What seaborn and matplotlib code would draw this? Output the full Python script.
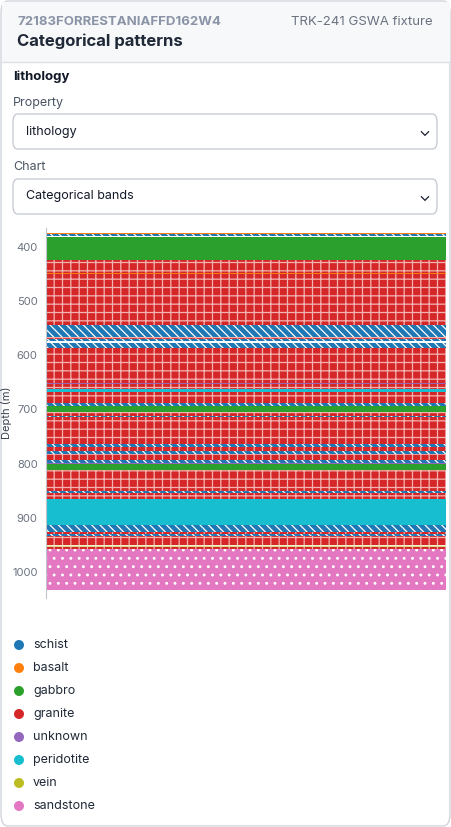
import matplotlib.pyplot as plt
import matplotlib.patches as mpatches
import seaborn as sns

# lithology intervals (depth from, depth to, category)
top_m = [374, 376, 380, 409, 424, 447, 449, 543, 565, 570, 576, 587, 651, 653, 662, 668,
         670, 688, 694, 704, 712, 714, 763, 770, 776, 782, 793, 799, 800, 812, 851, 855,
         866, 913, 926, 930, 935, 950, 954, 958]
base_m = [376, 378, 409, 424, 447, 449, 543, 565, 570, 573, 587, 651, 653, 662, 668, 670,
          688, 694, 704, 712, 714, 763, 770, 776, 782, 793, 799, 800, 812, 851, 855, 866,
          913, 926, 930, 935, 950, 954, 958, 1034]
litho = ['basalt', 'schist', 'gabbro', 'gabbro', 'granite', 'basalt', 'granite', 'schist',
         'granite', 'schist', 'schist', 'granite', 'unknown', 'granite', 'peridotite', 'granite',
         'granite', 'schist', 'gabbro', 'granite', 'schist', 'granite', 'schist', 'granite',
         'schist', 'granite', 'schist', 'unknown', 'gabbro', 'granite', 'schist', 'granite',
         'peridotite', 'schist', 'granite', 'schist', 'granite', 'vein', 'granite', 'sandstone']

categories = ['schist', 'basalt', 'gabbro', 'granite', 'unknown', 'peridotite', 'vein', 'sandstone']
pal = sns.color_palette('tab10', 10)
colors = dict(zip(categories, [pal[0], pal[1], pal[2], pal[3], pal[4], pal[9], pal[8], pal[6]]))
hatches = {'schist': '\\\\\\\\', 'basalt': '--', 'gabbro': '', 'granite': '++',
           'unknown': '', 'peridotite': '', 'vein': '--', 'sandstone': '..'}
hatch_col = {'granite': '#f2b3b3', 'schist': 'white', 'basalt': 'white', 'vein': 'white',
             'sandstone': 'white'}

sns.set_style('white')
plt.rcParams['font.family'] = ['Inter', 'DejaVu Sans']
plt.rcParams['hatch.linewidth'] = 0.9

W, H = 451, 827
fig = plt.figure(figsize=(W / 100, H / 100), dpi=100)

# card + header (kept below the axes)
fig.patches.append(mpatches.FancyBboxPatch((1 / W, 1 / H), 449 / W, 825 / H,
                   boxstyle='round,pad=0,rounding_size=0.015', transform=fig.transFigure,
                   fc='white', ec='#d0d4da', lw=1, zorder=-10))
fig.patches.append(mpatches.Rectangle((1.5 / W, 1 - 62 / H), 448 / W, 60 / H,
                   transform=fig.transFigure, fc='#f7f8fa', ec='none', zorder=-9))
fig.lines.append(plt.Line2D([1 / W, 450 / W], [1 - 62 / H] * 2, transform=fig.transFigure,
                            color='#dde1e6', lw=1, zorder=-8))
fig.text(17 / W, 1 - 22 / H, '72183FORRESTANIAFFD162W4', fontsize=9.5, color='#8a94a6',
         weight='bold', va='center')
fig.text(17 / W, 1 - 41 / H, 'Categorical patterns', fontsize=12, color='#1f2937',
         weight='bold', va='center')
fig.text(433 / W, 1 - 22 / H, 'TRK-241 GSWA fixture', fontsize=9.5, color='#6b7280',
         ha='right', va='center')
fig.text(13 / W, 1 - 77 / H, 'lithology', fontsize=9.5, color='#111827', weight='bold', va='center')

for lab, ly, sy, txt in [('Property', 103, 114, 'lithology'), ('Chart', 167, 179, 'Categorical bands')]:
    fig.text(13 / W, 1 - ly / H, lab, fontsize=9, color='#4b5563', va='center')
    fig.patches.append(mpatches.FancyBboxPatch((13 / W, 1 - (sy + 35) / H), 424 / W, 35 / H,
                       boxstyle='round,pad=0,rounding_size=0.01', transform=fig.transFigure,
                       fc='white', ec='#c7ccd3', lw=1, zorder=-8))
    fig.text(26 / W, 1 - (sy + 17.5) / H, txt, fontsize=9, color='#111827', va='center')
    fig.text(430 / W, 1 - (sy + 17.5) / H, '\u2304', fontsize=11, color='#111827',
             ha='right', va='center')

ax = fig.add_axes([46 / W, 1 - 598 / H, 400 / W, 370 / H])
for t, b, c in zip(top_m, base_m, litho):
    ax.bar(0.5, b - t, bottom=t, width=1, color=colors[c], hatch=hatches[c],
           edgecolor=hatch_col.get(c, colors[c]), linewidth=0)
ax.set_xlim(0, 1)
ax.set_ylim(1049, 364)
ax.set_yticks([400, 500, 600, 700, 800, 900, 1000])
ax.set_xticks([])
ax.tick_params(axis='y', labelsize=8, colors='#6b7280', length=0, pad=6)
ax.set_ylabel('Depth (m)', fontsize=8, color='#374151')
ax.yaxis.set_label_coords(-0.085, 0.5)
for s in ['top', 'right', 'bottom']:
    ax.spines[s].set_visible(False)
ax.spines['left'].set_color('#c0c4ca')
ax.patch.set_alpha(0)

for i, c in enumerate(categories):
    y = 1 - (645 + 23 * i) / H
    fig.patches.append(mpatches.Ellipse((19 / W, y), 10 / W, 10 / H, transform=fig.transFigure,
                                        fc=colors[c], ec='none'))
    fig.text(33 / W, y, c, fontsize=9, color='#1f2937', va='center')

fig.savefig('out.png', dpi=100)
